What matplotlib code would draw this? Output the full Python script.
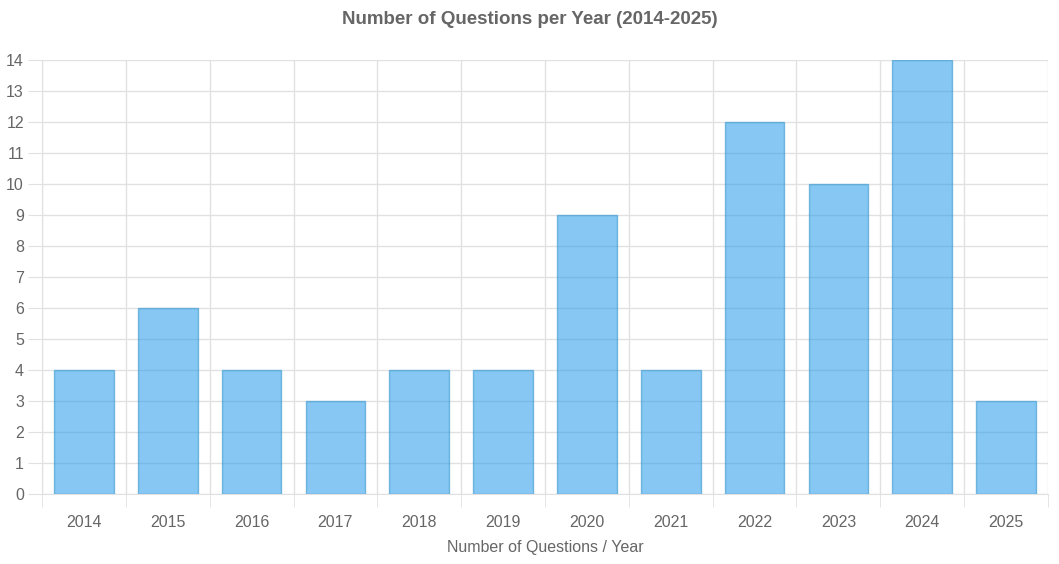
import matplotlib
matplotlib.use("Agg")
import matplotlib.pyplot as plt

plt.rcParams["font.family"] = ["Liberation Sans", "DejaVu Sans"]

years = ["2014", "2015", "2016", "2017", "2018", "2019",
         "2020", "2021", "2022", "2023", "2024", "2025"]
questions = [4, 6, 4, 3, 4, 4, 9, 4, 12, 10, 14, 3]

TEXT = "#666666"
GRID = "#e1e1e1"

fig = plt.figure(figsize=(10.59, 5.64), dpi=100)
ax = fig.add_axes([42 / 1059, 1 - 494 / 564, (1048 - 42) / 1059, (494 - 60) / 564])

x = list(range(len(years)))
ax.bar(x, questions, width=0.71, color="#36a2eb", alpha=0.6,
       edgecolor="#3596cf", linewidth=1, zorder=2)

ax.set_xlim(-0.5, len(years) - 0.5)
ax.set_ylim(0, 14)
ax.set_yticks(range(0, 15))
ax.set_xticks(x)
ax.set_xticklabels(years)
ax.set_xticks([i - 0.5 for i in range(len(years) + 1)], minor=True)

ax.grid(False)
ax.yaxis.grid(True, color=GRID, linewidth=1, zorder=0)
ax.xaxis.grid(True, which="minor", color=GRID, linewidth=1, zorder=0)
ax.set_axisbelow(True)

ax.tick_params(axis="y", length=10, color=GRID, labelcolor=TEXT, labelsize=11.5, pad=3)
ax.tick_params(axis="x", which="major", length=0, labelcolor=TEXT, labelsize=11.5, pad=15)
ax.tick_params(axis="x", which="minor", length=9, color=GRID)

for side in ["top", "right"]:
    ax.spines[side].set_visible(False)
ax.spines["left"].set_color(GRID)
ax.spines["bottom"].set_color(GRID)

ax.set_xlabel("Number of Questions / Year", color=TEXT, fontsize=11.5, labelpad=7)
fig.suptitle("Number of Questions per Year (2014-2025)", y=1 - 19 / 564, va="center",
             color=TEXT, fontsize=13.5, fontweight="bold")

fig.savefig("out.png", dpi=100)
